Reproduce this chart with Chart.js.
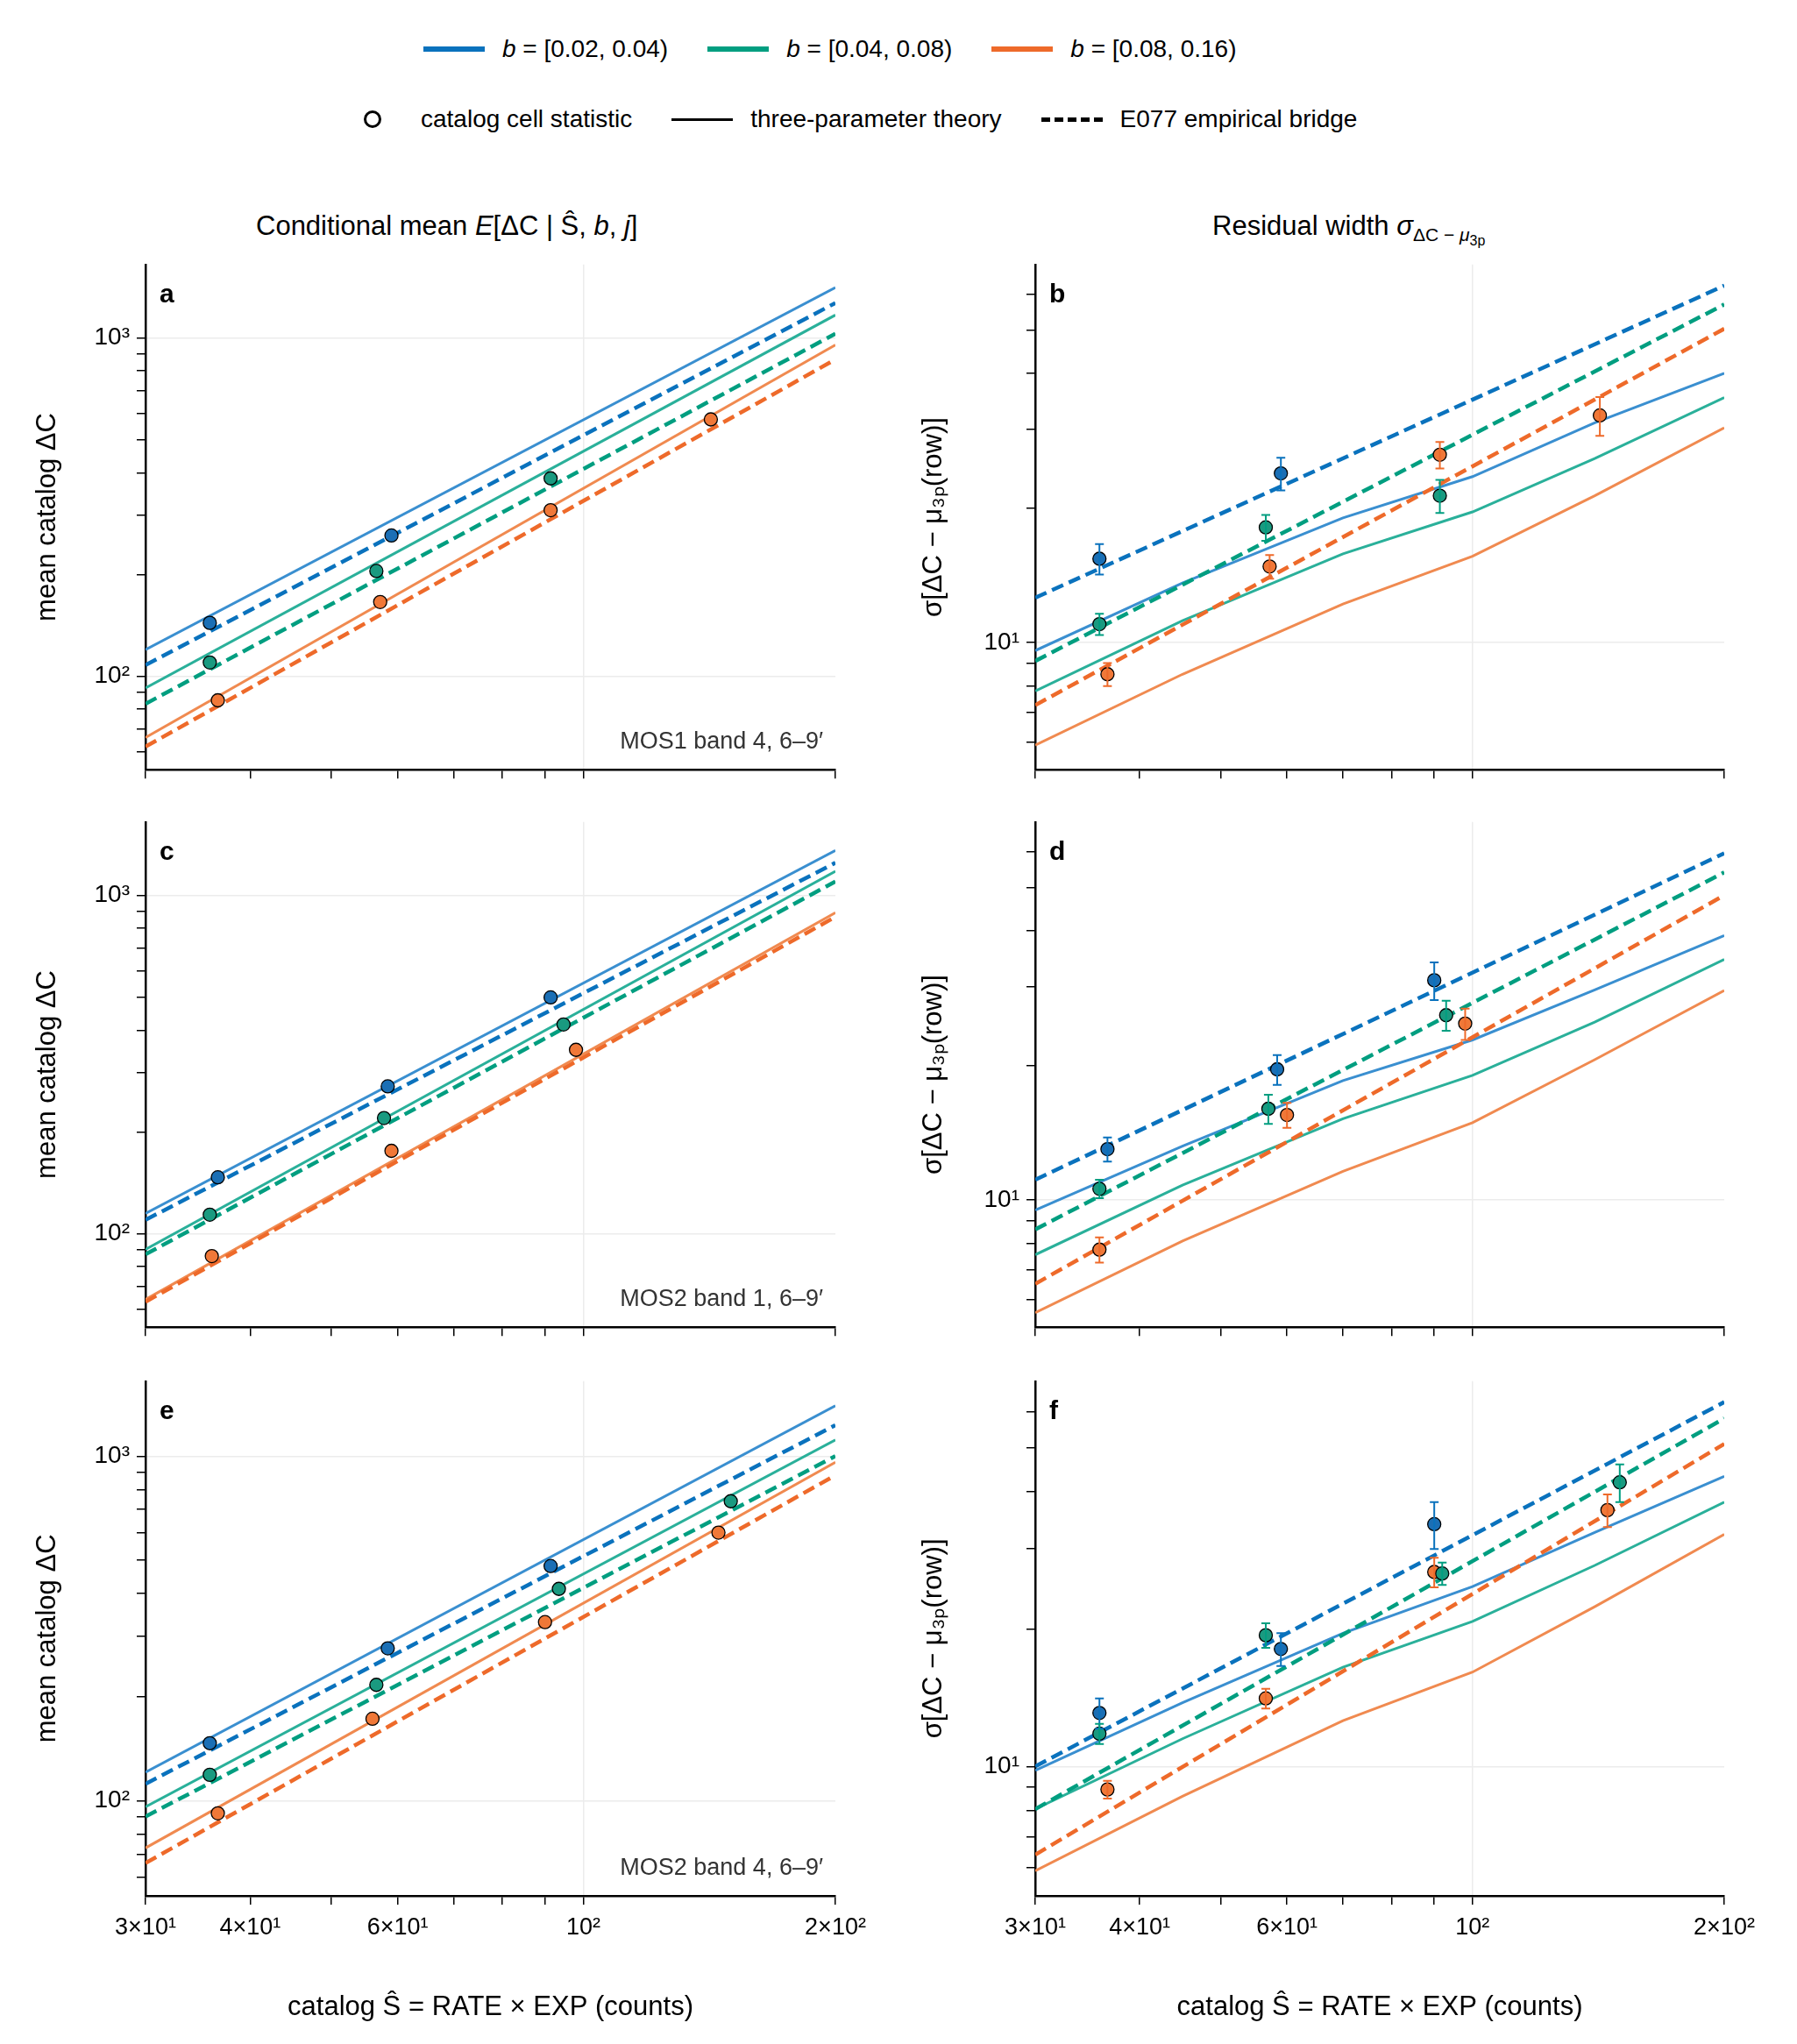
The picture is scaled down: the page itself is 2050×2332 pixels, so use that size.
<!DOCTYPE html>
<html><head><meta charset="utf-8">
<script src="https://cdn.jsdelivr.net/npm/chart.js@4.4.1/dist/chart.umd.min.js"></script>
<style>
body{margin:0;background:#fff;font-family:Arial,"Liberation Sans",sans-serif;}
#wrap{position:relative;width:2050px;height:2332px;}
canvas{position:absolute;}
.t{position:absolute;font-size:31px;color:#000;white-space:nowrap;}
.leg{position:absolute;font-size:28px;display:flex;align-items:center;white-space:nowrap;}
.sw{display:inline-block;width:70px;height:0;margin-right:20px;}
</style></head><body><div id="wrap">
<div class="leg" style="left:483px;top:40px">
 <span class="sw" style="border-top:6px solid #0a72bd"></span><i>b</i>&nbsp;= [0.02, 0.04)
 <span class="sw" style="border-top:6px solid #009e80;margin-left:45px"></span><i>b</i>&nbsp;= [0.04, 0.08)
 <span class="sw" style="border-top:6px solid #ee6a2a;margin-left:45px"></span><i>b</i>&nbsp;= [0.08, 0.16)
</div>
<div class="leg" style="left:415px;top:120px">
 <span style="display:inline-block;width:14px;height:14px;border:3.5px solid #000;border-radius:50%;margin-right:45px"></span>catalog cell statistic
 <span class="sw" style="border-top:3px solid #000;margin-left:45px"></span>three-parameter theory
 <span class="sw" style="border-top:5px dashed #000;margin-left:45px"></span>E077 empirical bridge
</div>
<div class="t" style="left:292px;top:240px">Conditional mean <i>E</i>[ΔC | Ŝ, <i>b</i>, <i>j</i>]</div>
<div class="t" style="left:1383px;top:240px">Residual width <i>σ</i><sub style="font-size:21px">ΔC − <i>μ</i><sub style="font-size:16px">3p</sub></sub></div>
</div>
<script>
// x positions of the theory lines
const lineX = [30, 200];
const curveX = [30, 45, 70, 100, 140, 200];
const colSolid = ['#3a8fd0', '#2ab09a', '#f08a50'];
const colDash = ['#0a72bd', '#009e80', '#ee6a2a'];
const colPt = ['#1b6fb5', '#1a9a80', '#f07838'];

// panel a: MOS1 band 4
const aSolid = [[120, 1410], [92.5, 1170], [66, 955]];
const aDash = [[108, 1270], [83, 1030], [62, 865]];
const aPtX = [[35.8, 59], [35.8, 56.6, 91.4], [36.6, 57.2, 91.4, 142]];
const aPtY = [[144, 261], [110, 205, 385], [85, 166, 310, 575]];
// panel b
const bSolid = [[9.6, 13.6, 19, 23.5, 31, 40], [7.8, 11.2, 15.8, 19.6, 25.8, 35.3], [5.9, 8.5, 12.2, 15.6, 21.3, 30.2]];
const bDash = [[12.6, 62.8], [9.1, 57], [7.25, 50.3]];
const bPtX = [[35.8, 59], [35.8, 56.6, 91.4], [36.6, 57.2, 91.4, 142]];
const bPtY = [[15.4, 23.9], [11.0, 18.1, 21.3], [8.5, 14.8, 26.3, 32.2]];
const bErr = [[1.2, 2.0], [0.6, 1.2, 1.8], [0.5, 0.9, 1.8, 3.2]];
// panel c: MOS2 band 1
const cSolid = [[115, 1360], [90, 1180], [64, 890]];
const cDash = [[110, 1250], [87, 1100], [63, 865]];
const cPtX = [[36.6, 58.4, 91.4], [35.8, 57.8, 94.7], [36.0, 59, 98]];
const cPtY = [[147, 273, 500], [114, 220, 416], [86, 176, 350]];
// panel d
const dSolid = [[9.5, 13.2, 18.5, 22.8, 29.5, 39.0], [7.55, 10.8, 15.2, 19, 25, 34.5], [5.6, 8.1, 11.6, 14.9, 20.6, 29.4]];
const dDash = [[11.1, 59.6], [8.6, 54], [6.5, 48]];
const dPtX = [[36.6, 58.4, 90], [35.8, 57, 93], [35.8, 60, 98]];
const dPtY = [[13.0, 19.6, 31], [10.6, 16, 25.9], [7.75, 15.5, 24.8]];
const dErr = [[0.8, 1.5, 3], [0.5, 1.2, 2], [0.5, 1.0, 2]];
// panel e: MOS2 band 4
const eSolid = [[121, 1400], [96, 1115], [73, 960]];
const eDash = [[112, 1230], [90, 1000], [66, 880]];
const ePtX = [[35.8, 58.4, 91.4], [35.8, 56.6, 93.5, 150], [36.6, 56, 90, 145]];
const ePtY = [[147, 277, 480], [119, 217, 412, 740], [92, 173, 330, 600]];
// panel f
const fSolid = [[9.8, 13.8, 19.6, 24.8, 32.6, 43.3], [8.06, 11.5, 16.5, 20.8, 27.6, 38], [5.9, 8.6, 12.6, 16.1, 22.4, 32.3]];
const fDash = [[10, 63], [8.06, 58], [6.4, 51]];
const fPtX = [[35.8, 59, 90], [35.8, 56.6, 92, 150], [36.6, 56.6, 90, 145]];
const fPtY = [[13.1, 18.1, 34], [11.8, 19.4, 26.5, 42], [8.9, 14.1, 26.7, 36.5]];
const fErr = [[1.0, 1.5, 4], [0.6, 1.2, 1.5, 4], [0.4, 0.7, 2, 3]];

const xTicks = [30, 40, 50, 60, 70, 80, 90, 100, 200];
const xLabels = {30: '3×10¹', 40: '4×10¹', 60: '6×10¹', 100: '10²', 200: '2×10²'};
const yTicksL = [60, 70, 80, 90, 100, 200, 300, 400, 500, 600, 700, 800, 900, 1000];
const yLabelsL = {100: '10²', 1000: '10³'};
const yTicksR = [6, 7, 8, 9, 10, 20, 30, 40, 50, 60];
const yLabelsR = {10: '10¹'};

const errPlugin = {
  id: 'errbars',
  afterDatasetsDraw(chart, args, opts) {
    const ctx = chart.ctx, xs = chart.scales.x, ys = chart.scales.y, a = chart.chartArea;
    ctx.save();
    if (opts.err) {
      opts.err.forEach((errs, s) => {
        ctx.strokeStyle = colDash[s]; ctx.lineWidth = 2;
        errs.forEach((e, i) => {
          const px = xs.getPixelForValue(opts.px[s][i]);
          const y0 = ys.getPixelForValue(opts.py[s][i] - e), y1 = ys.getPixelForValue(opts.py[s][i] + e);
          ctx.beginPath(); ctx.moveTo(px, y0); ctx.lineTo(px, y1);
          ctx.moveTo(px - 5, y0); ctx.lineTo(px + 5, y0); ctx.moveTo(px - 5, y1); ctx.lineTo(px + 5, y1);
          ctx.stroke();
        });
      });
    }
    ctx.fillStyle = '#000'; ctx.font = 'bold 30px Arial';
    ctx.textBaseline = 'top';
    ctx.fillText(opts.letter, a.left + 16, a.top + 20);
    if (opts.note) {
      ctx.font = '27px Arial'; ctx.fillStyle = '#333'; ctx.textAlign = 'right'; ctx.textBaseline = 'bottom';
      ctx.fillText(opts.note, a.right - 14, a.bottom - 18);
    }
    ctx.restore();
  }
};

function makePanel(p) {
  const cv = document.createElement('canvas');
  cv.width = p.w; cv.height = p.h;
  cv.style.left = p.left + 'px'; cv.style.top = p.top + 'px';
  cv.style.width = p.w + 'px'; cv.style.height = p.h + 'px';
  document.getElementById('wrap').appendChild(cv);
  const ds = [];
  for (let s = 0; s < 3; s++) {
    const sx = p.solid[s].length === curveX.length ? curveX : lineX;
    ds.push({type: 'line', data: sx.map((x, i) => ({x, y: p.solid[s][i]})), borderColor: colSolid[s],
      borderWidth: 3, pointRadius: 0, tension: 0, order: 3});
    ds.push({type: 'line', data: lineX.map((x, i) => ({x, y: p.dash[s][i]})), borderColor: colDash[s],
      borderWidth: 4.5, borderDash: [14, 7], pointRadius: 0, order: 2});
    ds.push({type: 'scatter', data: p.px[s].map((x, i) => ({x, y: p.py[s][i]})), backgroundColor: colPt[s],
      borderColor: '#000', borderWidth: 1.3, pointRadius: 7.5, order: 1});
  }
  const isMajorX = v => v === 100;
  new Chart(cv, {
    data: {datasets: ds},
    plugins: [errPlugin],
    options: {
      responsive: false, devicePixelRatio: 1, animation: false,
      layout: {padding: {top: 20, right: p.padR, left: 0, bottom: 0}},
      plugins: {legend: {display: false}, tooltip: {enabled: false},
        errbars: {err: p.err, px: p.px, py: p.py, letter: p.letter, note: p.note}},
      scales: {
        x: {type: 'logarithmic', min: 30, max: 200,
          afterBuildTicks: sc => { sc.ticks = xTicks.map(v => ({value: v})); },
          afterFit: sc => { sc.height = p.xh; },
          ticks: {display: p.bottom, autoSkip: false, maxRotation: 0, color: '#000', font: {size: 27, family: 'Arial'},
            padding: 10, callback: v => xLabels[v] || ''},
          grid: {color: c => isMajorX(c.tick && c.tick.value) ? '#ececec' : 'transparent', tickColor: '#000',
            tickLength: 10, lineWidth: 1.5},
          border: {color: '#000', width: 2.5},
          title: {display: p.bottom, text: 'catalog Ŝ = RATE × EXP (counts)', color: '#000',
            font: {size: 31, family: 'Arial'}, padding: {top: 18}}
        },
        y: {type: 'logarithmic', min: p.ymin, max: p.ymax,
          afterBuildTicks: sc => { sc.ticks = p.yt.map(v => ({value: v})); },
          afterFit: sc => { sc.width = p.yw; },
          ticks: {autoSkip: false, color: '#000', font: {size: 28, family: 'Arial'}, padding: 8,
            callback: v => p.yl[v] || ''},
          grid: {color: c => p.yl[c.tick && c.tick.value] ? '#ececec' : 'transparent', tickColor: '#000',
            tickLength: 10, lineWidth: 1.5},
          border: {color: '#000', width: 2.5},
          title: {display: true, text: p.ytitle, color: '#000', font: {size: 31, family: 'Arial'}, padding: {bottom: 10}}
        }
      }
    }
  });
}

const rowsTop = [297, 933, 1571];
const leftPanels = [[aSolid, aDash, aPtX, aPtY, 'a', 'MOS1 band 4, 6–9′'],
  [cSolid, cDash, cPtX, cPtY, 'c', 'MOS2 band 1, 6–9′'], [eSolid, eDash, ePtX, ePtY, 'e', 'MOS2 band 4, 6–9′']];
const rightPanels = [[bSolid, bDash, bPtX, bPtY, 'b', bErr], [dSolid, dDash, dPtX, dPtY, 'd', dErr],
  [fSolid, fDash, fPtX, fPtY, 'f', fErr]];
for (let r = 0; r < 3; r++) {
  const bottom = r === 2, xh = bottom ? 150 : 14;
  const L = leftPanels[r], R = rightPanels[r];
  makePanel({left: 32, top: rowsTop[r] - 20, w: 968, h: 612 + xh, padR: 47, xh, yw: 134, bottom,
    solid: L[0], dash: L[1], px: L[2], py: L[3], letter: L[4], note: L[5], ymin: 53, ymax: 1650,
    yt: yTicksL, yl: yLabelsL, ytitle: 'mean catalog ΔC'});
  makePanel({left: 1043, top: rowsTop[r] - 20, w: 1007, h: 612 + xh, padR: 83, xh, yw: 138, bottom,
    solid: R[0], dash: R[1], px: R[2], py: R[3], letter: R[4], err: R[5], ymin: 5.2, ymax: 70,
    yt: yTicksR, yl: yLabelsR, ytitle: 'σ[ΔC − μ₃ₚ(row)]'});
}
</script></body></html>
